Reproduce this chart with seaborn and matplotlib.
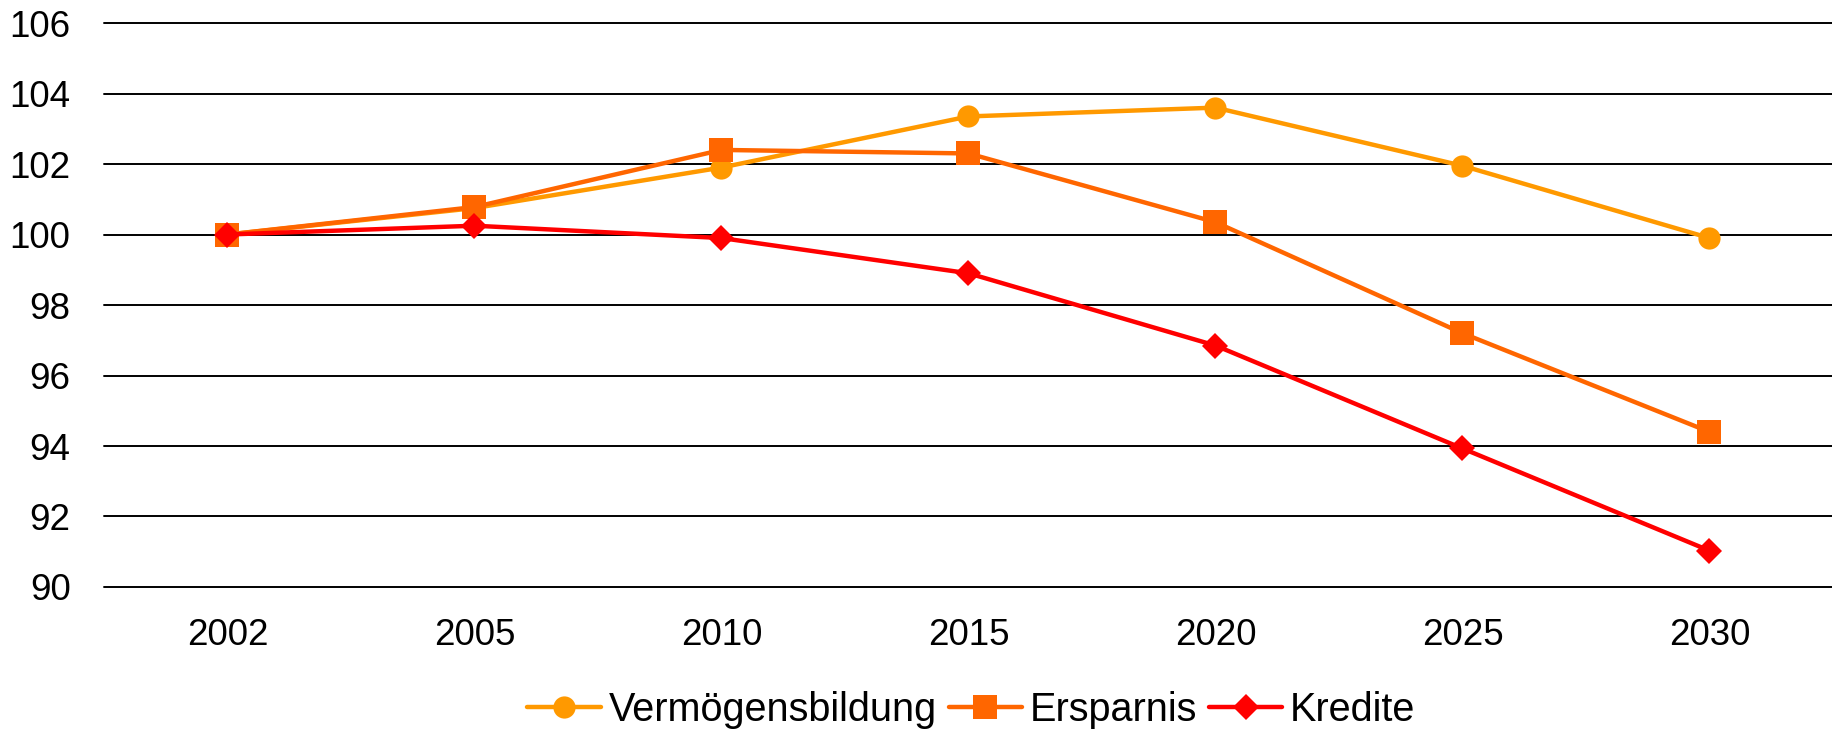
import pandas as pd
import matplotlib.pyplot as plt
import seaborn as sns

# Werte (Index 2002 = 100)
jahre = ['2002', '2005', '2010', '2015', '2020', '2025', '2030']
vermoegensbildung = [100.0, 100.75, 101.9, 103.35, 103.6, 101.95, 99.9]
ersparnis = [100.0, 100.78, 102.4, 102.3, 100.35, 97.2, 94.4]
kredite = [100.0, 100.25, 99.9, 98.9, 96.85, 93.93, 91.03]

reihen = ['Vermögensbildung', 'Ersparnis', 'Kredite']
farben = {'Vermögensbildung': '#FF9900', 'Ersparnis': '#FF6600', 'Kredite': '#FF0000'}
marker = {'Vermögensbildung': 'o', 'Ersparnis': 's', 'Kredite': 'D'}

df = pd.DataFrame({
    'Jahr': jahre * 3,
    'Wert': vermoegensbildung + ersparnis + kredite,
    'Reihe': [r for r in reihen for _ in jahre],
})

sns.set_style('white')
plt.rcParams['font.family'] = ['Liberation Sans', 'DejaVu Sans']
plt.rcParams['text.color'] = 'black'

fig = plt.figure(figsize=(18.33, 7.29), dpi=100)
ax = fig.add_axes([0.0567, 0.1948, 0.9433, 0.7736])

sns.lineplot(data=df, x='Jahr', y='Wert', hue='Reihe', style='Reihe',
             hue_order=reihen, style_order=reihen, palette=farben,
             markers=marker, dashes=False, markersize=16,
             markeredgewidth=0, sort=False, ax=ax)

# Linienstärke und Marker angleichen
for line, name in zip(ax.lines, reihen):
    line.set_linewidth(3.2)
    line.set_solid_capstyle('round')
    if name == 'Ersparnis':
        line.set_markersize(17)
    elif name == 'Kredite':
        line.set_markersize(13)

ax.set_xlim(-0.5, 6.5)
ax.set_ylim(90, 106)
ax.set_yticks(range(90, 107, 2))
ax.yaxis.grid(True, color='black', linewidth=1.4)
ax.set_axisbelow(True)
for g in ax.get_ygridlines():
    g.set_clip_on(False)
for s in ax.spines.values():
    s.set_visible(False)
ax.tick_params(axis='both', length=0, labelsize=26.5, labelcolor='black')
ax.tick_params(axis='y', pad=24)
ax.tick_params(axis='x', pad=22)
ax.set_xlabel('')
ax.set_ylabel('')

ax.get_legend().remove()
fig.legend(ax.lines[:3], reihen, loc='center', bbox_to_anchor=(0.53, 0.026),
           ncol=3, frameon=False, fontsize=28.5, handlelength=1.85,
           handletextpad=0.2, columnspacing=0.3, borderaxespad=0)

plt.savefig('out.png', dpi=100)
